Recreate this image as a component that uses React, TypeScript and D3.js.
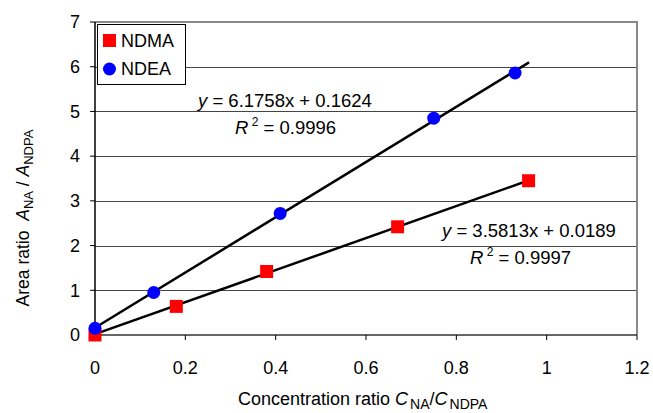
import React from 'react';
import * as d3 from 'd3';

const ndmaX = [0, 0.18, 0.38, 0.67, 0.96];
const ndmaY = [0, 0.64, 1.42, 2.42, 3.45];
const ndeaX = [0, 0.13, 0.41, 0.75, 0.93];
const ndeaY = [0.15, 0.95, 2.72, 4.85, 5.86];
const xTicks = [0, 0.2, 0.4, 0.6, 0.8, 1, 1.2];
const yTicks = [0, 1, 2, 3, 4, 5, 6, 7];
const fits = [
  { name: 'NDEA', slope: 6.1758, intercept: 0.1624, r2: '0.9996', eq: '6.1758x + 0.1624' },
  { name: 'NDMA', slope: 3.5813, intercept: 0.0189, r2: '0.9997', eq: '3.5813x + 0.0189' },
];
const fitRange = [0, 0.961];

const W = 653;
const H = 413;
const margin = { top: 22, right: 16, bottom: 78, left: 95 };
const font = 'Arial, "Liberation Sans", sans-serif';

const App = () => {
  const x = d3.scaleLinear().domain([0, 1.2]).range([margin.left, W - margin.right]);
  const y = d3.scaleLinear().domain([0, 7]).range([H - margin.bottom, margin.top]);
  const x0 = x(0);
  const x1 = x(1.2);
  const y0 = y(0);
  const y1 = y(7);
  const line = d3
    .line<number[]>()
    .x((d) => x(d[0]))
    .y((d) => y(d[1]));

  return (
    <svg
      width={W}
      height={H}
      style={{ position: 'absolute', left: 0, top: 0, background: '#fff' }}
      fontFamily={font}
    >
      {/* grid */}
      {yTicks.slice(1, -1).map((t) => (
        <line
          key={'g' + t}
          x1={x0}
          x2={x1}
          y1={Math.round(y(t)) + 0.5}
          y2={Math.round(y(t)) + 0.5}
          stroke="#444"
          strokeWidth={1}
        />
      ))}
      {/* plot border top/right */}
      <path
        d={`M${x0},${y1}H${x1}V${y0}`}
        fill="none"
        stroke="#888"
        strokeWidth={2}
      />
      {/* axes */}
      <line x1={x0} x2={x0} y1={y1} y2={y0} stroke="#000" strokeWidth={1.5} />
      <line x1={x0} x2={x1} y1={y0} y2={y0} stroke="#333" strokeWidth={1.5} />
      {yTicks.map((t) => (
        <g key={'y' + t}>
          <line x1={x0 - 5} x2={x0} y1={y(t)} y2={y(t)} stroke="#000" strokeWidth={1} />
          <text x={x0 - 15} y={y(t)} dy="0.35em" textAnchor="end" fontSize={18}>
            {t}
          </text>
        </g>
      ))}
      {xTicks.map((t) => (
        <g key={'x' + t}>
          <line x1={x(t)} x2={x(t)} y1={y0} y2={y0 + 5} stroke="#000" strokeWidth={1} />
          <text x={x(t)} y={y0 + 39} textAnchor="middle" fontSize={18}>
            {t}
          </text>
        </g>
      ))}

      {/* trend lines */}
      {fits.map((f) => (
        <path
          key={f.name}
          d={line(fitRange.map((v) => [v, f.intercept + f.slope * v])) || ''}
          fill="none"
          stroke="#000"
          strokeWidth={2.5}
        />
      ))}

      {/* markers */}
      {ndmaX.map((v, i) => (
        <rect key={'m' + i} x={x(v) - 6.5} y={y(ndmaY[i]) - 6.5} width={13} height={13} fill="#ff0000" />
      ))}
      {ndeaX.map((v, i) => (
        <circle key={'e' + i} cx={x(v)} cy={y(ndeaY[i])} r={6.5} fill="#0000ff" />
      ))}

      {/* equations */}
      <text x={198} y={107} fontSize={18.5}>
        <tspan fontStyle="italic">y</tspan> = {fits[0].eq}
      </text>
      <text x={235} y={134} fontSize={18.5}>
        <tspan fontStyle="italic">R</tspan>
        <tspan dy={-8} fontSize={12}> 2</tspan>
        <tspan dy={8}> = {fits[0].r2}</tspan>
      </text>
      <text x={442} y={237} fontSize={18.5}>
        <tspan fontStyle="italic">y</tspan> = {fits[1].eq}
      </text>
      <text x={470} y={264} fontSize={18.5}>
        <tspan fontStyle="italic">R</tspan>
        <tspan dy={-8} fontSize={12}> 2</tspan>
        <tspan dy={8}> = {fits[1].r2}</tspan>
      </text>

      {/* legend */}
      <rect x={97.5} y={24.5} width={88} height={60} fill="#fff" stroke="#000" strokeWidth={1} />
      <rect x={103} y={34} width={13} height={13} fill="#ff0000" />
      <text x={121} y={47} fontSize={18}>NDMA</text>
      <circle cx={109.5} cy={69} r={6.5} fill="#0000ff" />
      <text x={121} y={75} fontSize={18}>NDEA</text>

      {/* axis titles */}
      <text x={238} y={405} fontSize={18}>
        Concentration ratio <tspan fontStyle="italic">C</tspan>
        <tspan fontSize={14} dx={2} dy={4}>NA</tspan>
        <tspan dy={-4}>/</tspan>
        <tspan fontStyle="italic">C</tspan>
        <tspan fontSize={14} dx={2} dy={4}>NDPA</tspan>
      </text>
      <text transform="translate(29,218) rotate(-90)" textAnchor="middle" fontSize={17.5}>
        Area ratio{'\u00a0\u00a0'}
        <tspan fontStyle="italic">A</tspan>
        <tspan fontSize={13} dy={4}>NA</tspan>
        <tspan dy={-4}> / </tspan>
        <tspan fontStyle="italic">A</tspan>
        <tspan fontSize={13} dy={4}>NDPA</tspan>
      </text>
    </svg>
  );
};

export default App;
